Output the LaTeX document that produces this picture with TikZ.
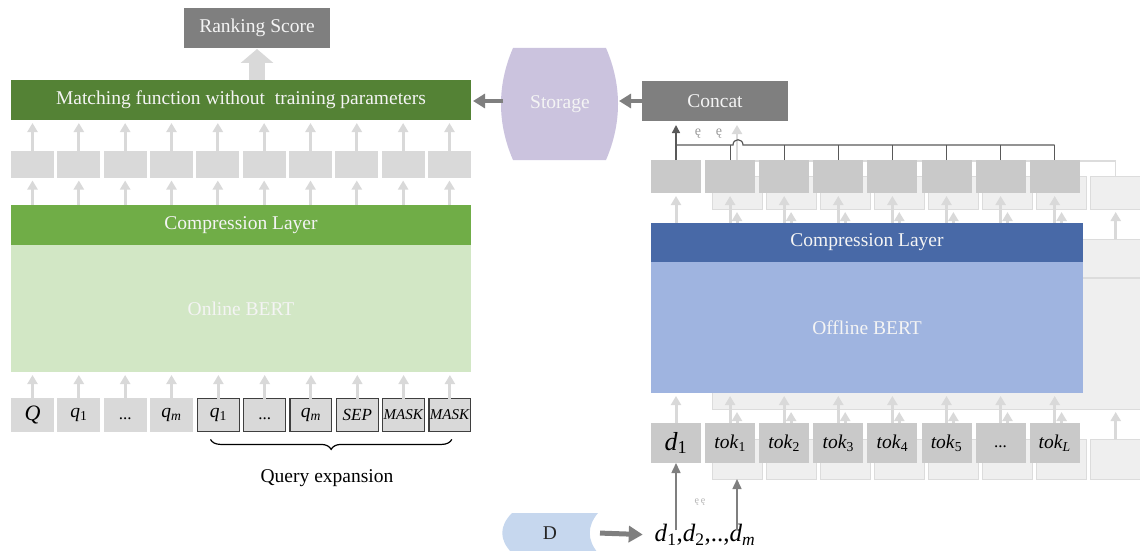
\documentclass[tikz,border=0pt]{standalone}
\usepackage{fontspec}
\setmainfont{Liberation Serif}
\usetikzlibrary{shapes,positioning,fit,calc,arrows.meta,decorations.pathreplacing}

\definecolor{cDark}{HTML}{7F7F7F}
\definecolor{cText}{HTML}{F4F4F4}
\definecolor{cMatch}{HTML}{548235}
\definecolor{cComp}{HTML}{70AD47}
\definecolor{cOnline}{HTML}{D2E7C5}
\definecolor{cCell}{HTML}{D9D9D9}
\definecolor{cBorder}{HTML}{3F3F3F}
\definecolor{cRight}{HTML}{C9C9C9}
\definecolor{cArrow}{HTML}{D9D9D9}
\definecolor{cBlue}{HTML}{4869A7}
\definecolor{cBlueL}{HTML}{9FB4E0}
\definecolor{cStore}{HTML}{CBC3DE}
\definecolor{cD}{HTML}{C6D7EE}
\definecolor{cShade}{HTML}{EFEFEF}
\definecolor{cShadeLine}{HTML}{DCDCDC}
\definecolor{cWire}{HTML}{595959}

\newcommand{\tokl}[2]{\textit{#1}\textsubscript{#2}}
\newcommand{\dotsl}{{\vphantom{dq}\fontsize{17}{19}\selectfont...}}

\begin{document}
\begin{tikzpicture}
            [x=1pt, y=-1pt,
            every node/.style={inner sep=0pt, outer sep=0pt, font=\fontsize{19.5}{23}\selectfont},
            greybox/.style={fill=cDark, text=cText, minimum width=146pt, minimum height=40pt},
            layer/.style={minimum width=460pt, minimum height=#1, text=cText},
            block/.style={minimum width=432pt, minimum height=#1, text=cText},
            cell/.style={fill=cCell, minimum width=43pt, minimum height=27pt},
            tok/.style={fill=cCell, minimum width=43pt, minimum height=34pt},
            qexp/.style={tok, draw=cBorder, line width=1.2pt, minimum width=41.8pt, minimum height=32.8pt},
            rcell/.style={fill=cRight, minimum width=50pt, minimum height=33pt},
            rtok/.style={fill=cRight, minimum width=50pt, minimum height=40pt},
            shade/.style={fill=cShade, draw=cShadeLine, line width=1pt},
            shadeline/.style={draw=cShadeLine, line width=1.5pt},
            up/.style={-{Triangle[width=10pt,length=9pt]}, line width=3pt, draw=cArrow, shorten >=3pt},
            bigup/.style={-{Triangle[width=32pt,length=14pt]}, line width=16pt, draw=cArrow, shorten >=1pt},
            feed/.style={-{Triangle[width=14pt,length=12pt]}, line width=4pt, draw=cDark, shorten >=2pt},
            darkup/.style={-{Triangle[width=8pt,length=8pt]}, line width=1.5pt, draw=cWire, shorten >=4pt},
            inup/.style={-{Triangle[width=9pt,length=10pt]}, line width=1.5pt, draw=cDark},
            wire/.style={draw=cWire, line width=1.2pt},
            glyph/.style={text=black!40, font=\fontsize{14}{16}\selectfont}
            ]
            \useasboundingbox (0,0) rectangle (1140,551);

            % Online side
            \node (rank) [greybox] at (257,28) {Ranking Score};
            \node (match) [layer=40pt, fill=cMatch] at (241,100) {Matching function without\ \ training parameters};
            \draw [bigup] (match.north -| rank.south) -- (rank.south);

            \node (c1) [cell] at (32.5,164) {};
            \foreach \i [remember=\i as \p (initially 1)] in {2,...,10}
            \node (c\i) [cell, right=3.33pt of c\p] {};

            \node (ccomp) [layer=40pt, fill=cComp] at (241,225) {Compression Layer};
            \node (online) [layer=127pt, fill=cOnline, below=0pt of ccomp] {Online BERT};

            \node (t1) [tok, font=\fontsize{22}{24}\selectfont] at (32.5,415) {\textit{Q}};
            \foreach \i/\lab [remember=\i as \p (initially 1)] in {2/\tokl{q}{1}, 3/\dotsl, 4/\tokl{q}{\textit{m}}}
            \node (t\i) [tok, right=3.33pt of t\p] {\lab};
            \foreach \i/\lab [remember=\i as \p (initially 4)] in {5/\tokl{q}{1}, 6/\dotsl, 7/\tokl{q}{\textit{m}},
                8/{\fontsize{17}{19}\selectfont\textit{SEP}}, 9/{\fontsize{15}{17}\selectfont\textit{MASK}},
                10/{\fontsize{15}{17}\selectfont\textit{MASK}}}
            \node (t\i) [qexp, right=4.5pt of t\p] {\lab};

            \foreach \i in {1,...,10} {
                \draw [up] (c\i.north) -- (c\i.north |- match.south);
                \draw [up] (c\i.south |- ccomp.north) -- (c\i.south);
                \draw [up] (t\i.north) -- (t\i.north |- online.south);
            }

            \draw [decorate, decoration={brace, mirror, amplitude=10pt}, line width=1.2pt]
                ([xshift=13pt,yshift=-8pt]t5.south west) -- ([xshift=-19pt,yshift=-8pt]t10.south east);
            \node (qlab) at (327,478) {Query expansion};

            % Storage
            \fill [cStore] (513,48) -- (606,48) .. controls (622,85) and (622,123) .. (606,160)
                -- (513,160) .. controls (497,123) and (497,85) .. (513,48) -- cycle;
            \node (storage) [minimum width=114pt, minimum height=112pt, text=cText] at (560,104) {Storage};
            \node (concat) [greybox] at (715,101) {Concat};
            \draw [feed] (concat.west) -- (concat.west -| storage.east);
            \draw [feed] (storage.west |- concat.west) -- (concat.west -| match.east);

            % Offline side, copies behind
            \begin{scope}[shift={(61,16)}]
                \draw [shade] (651,223) rectangle (1083,393);
                \draw [shadeline] (651,262) -- (1083,262);
                \draw [shadeline] (676,145) -- (1055,145);
                \draw [up, line width=2.5pt, shorten >=0pt] (676,160) -- (676,109);
                \foreach \x in {0,...,7} {
                    \draw [shade] ({651+54.1*\x},160) rectangle +(50,33);
                    \draw [shade] ({651+54.1*\x},423) rectangle +(50,40);
                    \draw [up] ({676+54.1*\x},223) -- ({676+54.1*\x},193);
                    \draw [up] ({676+54.1*\x},423) -- ({676+54.1*\x},393);
                }
                \foreach \x in {1,...,7}
                \draw [shadeline] ({676+54.1*\x},160) -- ({676+54.1*\x},145);
            \end{scope}

            \node (r1) [rcell] at (676,176.5) {};
            \foreach \i [remember=\i as \p (initially 1)] in {2,...,8}
            \node (r\i) [rcell, right=4.1pt of r\p] {};

            \node (bcomp) [block=39pt, fill=cBlue] at (867,242.5) {Compression Layer};
            \node (offline) [block=131pt, fill=cBlueL, below=0pt of bcomp] {Offline BERT};

            \node (k1) [rtok, font=\fontsize{26}{28}\selectfont] at (676,443) {\tokl{d}{1}};
            \foreach \i/\lab [remember=\i as \p (initially 1)] in {2/\tokl{tok}{1}, 3/\tokl{tok}{2}, 4/\tokl{tok}{3},
                5/\tokl{tok}{4}, 6/\tokl{tok}{5}, 7/\dotsl, 8/\tokl{tok}{\textit{L}}}
            \node (k\i) [rtok, right=4.1pt of k\p] {\lab};

            \foreach \i in {1,...,8} {
                \draw [up] (k\i.north) -- (k\i.north |- offline.south);
                \draw [up] (r\i.south |- bcomp.north) -- (r\i.south);
            }

            % Concat wiring
            \coordinate (bus) at (676,145);
            \draw [darkup] (r1.north) -- (r1.north |- concat.south);
            \draw [wire] (r1.north |- bus) -- (733,145) .. controls (733,138) and (743,138) .. (743,145) -- (r8.north |- bus);
            \foreach \i in {2,...,8}
            \draw [wire] (r\i.north) -- (r\i.north |- bus);
            \node (g1) [glyph] at (698,134) {ę};
            \node (g2) [glyph] at (719,134) {ę};

            % Document input
            \fill [cD] (512,513) -- (598,513) .. controls (587,526) and (587,540) .. (598,553)
                -- (512,553) .. controls (499,540) and (499,526) .. (512,513) -- cycle;
            \node (dsrc) [minimum width=96pt, text=black!85] at (550,533) {D};
            \node (dseq) [font=\fontsize{25}{27}\selectfont] at (705,535) {\tokl{d}{1},\tokl{d}{2},..,\tokl{d}{\textit{m}}};
            \draw [feed, line width=5pt, -{Triangle[width=16pt,length=14pt]}, shorten <=2pt, shorten >=12pt] (dsrc.east) -- (dseq.west);
            \coordinate (sk1) at (737,479);
            \draw [inup] ([yshift=-6pt]k1.south |- dseq.north) -- (k1.south);
            \draw [inup] ([yshift=-6pt]sk1 |- dseq.north) -- (sk1);
            \node (g3) [glyph, font=\fontsize{10}{12}\selectfont, text=black!30] at (700,502) {ę\,ę};
        \end{tikzpicture}
\end{document}
